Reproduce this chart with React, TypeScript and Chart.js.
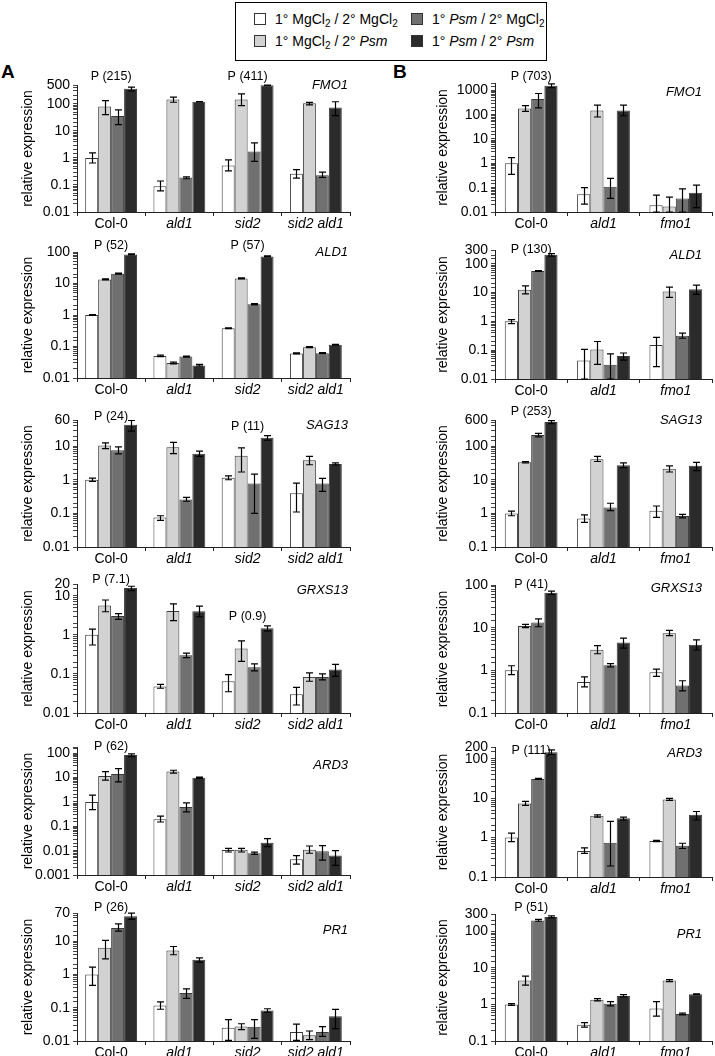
import React, { useEffect, useRef } from 'react';
import { Chart, registerables } from 'chart.js';

Chart.register(...registerables);

const FONT = "'Liberation Sans', Arial, Helvetica, sans-serif";

// ---------- categories & series ----------
const CATEGORIES_A = ['Col-0', 'ald1', 'sid2', 'sid2 ald1'];
const CATEGORIES_B = ['Col-0', 'ald1', 'fmo1'];
const SERIES = ['1° MgCl2 / 2° MgCl2', '1° MgCl2 / 2° Psm', '1° Psm / 2° MgCl2', '1° Psm / 2° Psm'];
const COLORS = ['#ffffff', '#d2d2d2', '#707070', '#2b2b2b'];

// ---------- data: rows = series (white, light, mid, dark), columns = categories ----------
// Panel A
const FMO1_A_VAL = [[1, 0.09, 0.53, 0.26], [80, 145, 145, 105], [36, 0.19, 1.75, 0.23], [360, 120, 490, 74]];
const FMO1_A_LO = [[0.65, 0.06, 0.33, 0.18], [40, 115, 87, 92], [17, 0.17, 0.75, 0.19], [300, 118, 470, 37]];
const FMO1_A_HI = [[1.55, 0.14, 0.85, 0.37], [132, 178, 235, 113], [60, 0.2, 3.6, 0.3], [420, 122, 510, 120]];
const FMO1_A_TICKS = [0.01, 0.1, 1, 10, 100, 500];

const ALD1_A_VAL = [[1, 0.05, 0.38, 0.06], [13.4, 0.03, 14.4, 0.095], [20.5, 0.048, 2.2, 0.061], [84, 0.025, 72, 0.114]];
const ALD1_A_LO = [[0.97, 0.048, 0.37, 0.058], [12.9, 0.028, 13.9, 0.092], [19.8, 0.046, 2.1, 0.059], [81, 0.024, 70, 0.11]];
const ALD1_A_HI = [[1.03, 0.053, 0.39, 0.063], [14, 0.032, 15, 0.099], [21.3, 0.05, 2.3, 0.064], [88, 0.027, 75, 0.118]];
const ALD1_A_TICKS = [0.01, 0.1, 1, 10, 100];

const SAG13_A_VAL = [[1, 0.075, 1.15, 0.4], [10.5, 9.3, 5.2, 3.8], [7.6, 0.26, 0.78, 0.78], [43, 5.9, 17.8, 2.95]];
const SAG13_A_LO = [[0.89, 0.062, 1.0, 0.11], [8.5, 6, 1.7, 2.8], [5.9, 0.23, 0.1, 0.45], [28, 5, 15, 2.75]];
const SAG13_A_HI = [[1.12, 0.085, 1.3, 0.8], [12.6, 13, 8.9, 5], [9.5, 0.3, 1.48, 1.1], [58, 7.1, 20.5, 3.2]];
const SAG13_A_TICKS = [0.01, 0.1, 1, 10, 60];

const GRXS13_A_VAL = [[1, 0.048, 0.065, 0.03], [5.6, 4.1, 0.45, 0.084], [3.05, 0.3, 0.148, 0.084], [15.7, 4, 1.48, 0.13]];
const GRXS13_A_LO = [[0.55, 0.043, 0.035, 0.016], [3.9, 2.3, 0.21, 0.065], [2.5, 0.26, 0.12, 0.07], [13.5, 2.9, 1.27, 0.087]];
const GRXS13_A_HI = [[1.4, 0.054, 0.096, 0.045], [7.8, 6.2, 0.7, 0.106], [3.5, 0.34, 0.18, 0.1], [17.5, 5.4, 1.7, 0.175]];
const GRXS13_A_TICKS = [0.01, 0.1, 1, 10, 20];

const ARD3_A_VAL = [[1, 0.196, 0.0106, 0.0044], [11.7, 17.6, 0.0108, 0.011], [14, 0.62, 0.0078, 0.0095], [85, 9.8, 0.021, 0.0063]];
const ARD3_A_LO = [[0.48, 0.15, 0.0088, 0.0028], [7.8, 15.3, 0.0088, 0.0078], [6.6, 0.39, 0.007, 0.0041], [73, 9.3, 0.0145, 0.0025]];
const ARD3_A_HI = [[1.9, 0.26, 0.0124, 0.0063], [17.6, 20, 0.0125, 0.0155], [23.5, 0.91, 0.0087, 0.016], [94, 10.5, 0.031, 0.01]];
const ARD3_A_TICKS = [0.001, 0.01, 0.1, 1, 10, 100];

const PR1_A_VAL = [[1, 0.117, 0.025, 0.0186], [6.3, 5.25, 0.0275, 0.0148], [25, 0.275, 0.027, 0.0186], [56, 2.75, 0.083, 0.055]];
const PR1_A_LO = [[0.47, 0.09, 0.0105, 0.0105], [2.95, 3.9, 0.022, 0.011], [20, 0.19, 0.012, 0.0138], [45, 2.34, 0.073, 0.0235]];
const PR1_A_HI = [[1.66, 0.15, 0.044, 0.032], [10.5, 6.9, 0.033, 0.02], [33, 0.37, 0.044, 0.027], [69, 3.16, 0.093, 0.089]];
const PR1_A_TICKS = [0.01, 0.1, 1, 10, 70];

// Panel B
const FMO1_B_VAL = [[1, 0.053, 0.019], [178, 150, 0.017], [440, 0.11, 0.036], [1550, 150, 0.062]];
const FMO1_B_LO = [[0.35, 0.021, 0.01], [137, 80, 0.01], [190, 0.036, 0.01], [1300, 90, 0.015]];
const FMO1_B_HI = [[1.7, 0.1, 0.049], [237, 245, 0.041], [740, 0.24, 0.09], [1850, 245, 0.127]];
const FMO1_B_TICKS = [0.01, 0.1, 1, 10, 100, 1000];

const ALD1_B_VAL = [[1, 0.044, 0.15], [12.4, 0.105, 10.8], [56, 0.031, 0.32], [205, 0.063, 13]];
const ALD1_B_LO = [[0.83, 0.01, 0.027], [9, 0.032, 6.8], [54, 0.01, 0.26], [185, 0.045, 8.6]];
const ALD1_B_HI = [[1.15, 0.106, 0.28], [17, 0.2, 15.4], [58, 0.075, 0.39], [225, 0.08, 18.2]];
const ALD1_B_TICKS = [0.01, 0.1, 1, 10, 100, 300];

const SAG13_B_VAL = [[1, 0.7, 1.2], [33, 41, 21.4], [214, 1.5, 0.84], [525, 27, 26]];
const SAG13_B_LO = [[0.85, 0.54, 0.76], [31.5, 35, 17], [190, 1.2, 0.74], [470, 23, 18.6]];
const SAG13_B_HI = [[1.17, 0.9, 1.66], [34.5, 50, 26], [240, 2, 0.93], [575, 31.6, 33]];
const SAG13_B_TICKS = [0.1, 1, 10, 100, 600];

const GRXS13_B_VAL = [[1, 0.53, 0.9], [10.9, 3.04, 7.4], [13.3, 1.31, 0.44], [66, 4.5, 4]];
const GRXS13_B_LO = [[0.79, 0.41, 0.72], [10, 2.45, 6.5], [10.5, 1.2, 0.33], [60, 3.3, 3]];
const GRXS13_B_HI = [[1.28, 0.7, 1.07], [11.9, 3.8, 8.6], [16, 1.43, 0.57], [72, 5.7, 5.2]];
const GRXS13_B_TICKS = [0.1, 1, 10, 100];

const ARD3_B_VAL = [[1, 0.46, 0.82], [7.3, 3.6, 9.3], [31, 0.74, 0.62], [148, 3.1, 3.8]];
const ARD3_B_LO = [[0.79, 0.4, 0.79], [6.6, 3.3, 8.8], [30, 0.19, 0.53], [129, 2.8, 2.8]];
const ARD3_B_HI = [[1.3, 0.55, 0.85], [8.3, 3.8, 9.9], [32, 2.6, 0.72], [170, 3.3, 4.6]];
const ARD3_B_TICKS = [0.1, 1, 10, 100, 200];

const PR1_B_VAL = [[1, 0.28, 0.78], [4.5, 1.35, 4.5], [200, 1.05, 0.55], [250, 1.7, 1.9]];
const PR1_B_LO = [[0.95, 0.24, 0.48], [3.4, 1.25, 4.2], [190, 0.92, 0.52], [235, 1.6, 1.85]];
const PR1_B_HI = [[1.05, 0.32, 1.2], [6, 1.45, 4.8], [215, 1.2, 0.58], [265, 1.85, 1.95]];
const PR1_B_TICKS = [0.1, 1, 10, 100, 300];

// ---------- layout ----------
const PADT = 30;
const XH = 24;
const GEO: any = {
  A: { left: 0, w: 355, yWidth: 77, padRight: 5, titlePad: 20, catPct: 0.76, geneInset: 2, cats: CATEGORIES_A },
  B: { left: 360, w: 355, yWidth: 135, padRight: 3, titlePad: 75, catPct: 0.73, geneInset: 10, cats: CATEGORIES_B },
};

const PANELS: any[] = [
  { side: 'A', gene: 'FMO1', val: FMO1_A_VAL, lo: FMO1_A_LO, hi: FMO1_A_HI, ticks: FMO1_A_TICKS, min: 0.01, max: 500, top: 85, bottom: 212, geneDy: 0, p: [{ cat: 0, text: 'P (215)', dy: -8 }, { cat: 2, text: 'P (411)', dy: -8 }] },
  { side: 'A', gene: 'ALD1', val: ALD1_A_VAL, lo: ALD1_A_LO, hi: ALD1_A_HI, ticks: ALD1_A_TICKS, min: 0.01, max: 100, top: 252, bottom: 378, geneDy: 0, p: [{ cat: 0, text: 'P (52)', dy: -6 }, { cat: 2, text: 'P (57)', dy: -6 }] },
  { side: 'A', gene: 'SAG13', val: SAG13_A_VAL, lo: SAG13_A_LO, hi: SAG13_A_HI, ticks: SAG13_A_TICKS, min: 0.01, max: 60, top: 420, bottom: 547, geneDy: 5, p: [{ cat: 0, text: 'P (24)', dy: -3 }, { cat: 2, text: 'P (11)', dy: 7 }] },
  { side: 'A', gene: 'GRXS13', val: GRXS13_A_VAL, lo: GRXS13_A_LO, hi: GRXS13_A_HI, ticks: GRXS13_A_TICKS, min: 0.01, max: 20, top: 584, bottom: 713, geneDy: 6, p: [{ cat: 0, text: 'P (7.1)', dy: -4 }, { cat: 2, text: 'P (0.9)', dy: 33 }] },
  { side: 'A', gene: 'ARD3', val: ARD3_A_VAL, lo: ARD3_A_LO, hi: ARD3_A_HI, ticks: ARD3_A_TICKS, min: 0.001, max: 180, top: 747, bottom: 875, geneDy: 18, p: [{ cat: 0, text: 'P (62)', dy: 0 }] },
  { side: 'A', gene: 'PR1', val: PR1_A_VAL, lo: PR1_A_LO, hi: PR1_A_HI, ticks: PR1_A_TICKS, min: 0.01, max: 70, top: 913, bottom: 1041, geneDy: 17, p: [{ cat: 0, text: 'P (26)', dy: -5 }] },
  { side: 'B', gene: 'FMO1', val: FMO1_B_VAL, lo: FMO1_B_LO, hi: FMO1_B_HI, ticks: FMO1_B_TICKS, min: 0.01, max: 2000, top: 83, bottom: 212, geneDy: 9, p: [{ cat: 0, text: 'P (703)', dy: -6 }] },
  { side: 'B', gene: 'ALD1', val: ALD1_B_VAL, lo: ALD1_B_LO, hi: ALD1_B_HI, ticks: ALD1_B_TICKS, min: 0.01, max: 300, top: 250, bottom: 379, geneDy: 5, p: [{ cat: 0, text: 'P (130)', dy: 0 }] },
  { side: 'B', gene: 'SAG13', val: SAG13_B_VAL, lo: SAG13_B_LO, hi: SAG13_B_HI, ticks: SAG13_B_TICKS, min: 0.1, max: 600, top: 420, bottom: 547, geneDy: 0, p: [{ cat: 0, text: 'P (253)', dy: -8 }] },
  { side: 'B', gene: 'GRXS13', val: GRXS13_B_VAL, lo: GRXS13_B_LO, hi: GRXS13_B_HI, ticks: GRXS13_B_TICKS, min: 0.1, max: 100, top: 585, bottom: 713, geneDy: 3, p: [{ cat: 0, text: 'P (41)', dy: 0 }] },
  { side: 'B', gene: 'ARD3', val: ARD3_B_VAL, lo: ARD3_B_LO, hi: ARD3_B_HI, ticks: ARD3_B_TICKS, min: 0.1, max: 200, top: 747, bottom: 877, geneDy: 6, p: [{ cat: 0, text: 'P (111)', dy: 4 }] },
  { side: 'B', gene: 'PR1', val: PR1_B_VAL, lo: PR1_B_LO, hi: PR1_B_HI, ticks: PR1_B_TICKS, min: 0.1, max: 300, top: 914, bottom: 1041, geneDy: 20, p: [{ cat: 0, text: 'P (51)', dy: -6 }] },
];

// ---------- plugins ----------
const CAP = 3.5;
const errorBarPlugin = {
  id: 'errorBars',
  afterDatasetsDraw(chart: any) {
    const { ctx } = chart;
    const y = chart.scales.y;
    ctx.save();
    ctx.strokeStyle = '#000';
    ctx.lineWidth = 1.2;
    chart.data.datasets.forEach((ds: any, di: number) => {
      const meta = chart.getDatasetMeta(di);
      meta.data.forEach((bar: any, i: number) => {
        const lo = Math.max(ds.lo[i], y.min);
        const hi = Math.min(ds.hi[i], y.max);
        const x = Math.round(bar.x) + 0.5;
        const yl = y.getPixelForValue(lo);
        const yh = y.getPixelForValue(hi);
        ctx.beginPath();
        ctx.moveTo(x, yl);
        ctx.lineTo(x, yh);
        ctx.moveTo(x - CAP, yh);
        ctx.lineTo(x + CAP, yh);
        ctx.moveTo(x - CAP, yl);
        ctx.lineTo(x + CAP, yl);
        ctx.stroke();
      });
    });
    ctx.restore();
  },
};

const annotPlugin = {
  id: 'annot',
  afterDraw(chart: any, _args: any, opts: any) {
    const { ctx, chartArea } = chart;
    const x = chart.scales.x;
    ctx.save();
    ctx.fillStyle = '#000';
    ctx.textBaseline = 'middle';
    ctx.font = `italic 13px ${FONT}`;
    ctx.textAlign = 'right';
    ctx.fillText(opts.gene, chartArea.right - opts.geneInset, chartArea.top + opts.geneDy);
    ctx.font = `12.5px ${FONT}`;
    ctx.textAlign = 'center';
    (opts.p || []).forEach((p: any) => {
      ctx.fillText(p.text, x.getPixelForValue(p.cat), chartArea.top + p.dy);
    });
    ctx.restore();
  },
};

function Panel({ spec }: { spec: any }) {
  const ref = useRef<HTMLCanvasElement>(null);
  const geo = GEO[spec.side];
  const height = PADT + (spec.bottom - spec.top) + XH;

  useEffect(() => {
    if (!ref.current) return;
    const chart = new Chart(ref.current, {
      type: 'bar',
      data: {
        labels: geo.cats,
        datasets: spec.val.map((v: number[], s: number) => ({
          label: SERIES[s],
          data: v,
          lo: spec.lo[s],
          hi: spec.hi[s],
          backgroundColor: COLORS[s],
          borderColor: '#3a3a3a',
          borderWidth: 1,
          categoryPercentage: geo.catPct,
          barPercentage: 1,
        })) as any,
      },
      options: {
        responsive: false,
        animation: false,
        devicePixelRatio: 1,
        layout: { padding: { top: PADT, left: 0, right: geo.padRight, bottom: 0 } },
        plugins: {
          legend: { display: false },
          tooltip: { enabled: false },
          annot: { gene: spec.gene, geneDy: spec.geneDy, geneInset: geo.geneInset, p: spec.p },
        } as any,
        scales: {
          x: {
            type: 'category',
            offset: true,
            grid: { offset: true, drawOnChartArea: false, drawTicks: true, tickLength: 4, color: '#222' },
            border: { color: '#222', width: 1 },
            ticks: {
              color: '#000',
              padding: 0,
              maxRotation: 0,
              autoSkip: false,
              font: (c: any) => ({ family: FONT, size: 14, style: c.index > 0 ? 'italic' : 'normal' }),
            },
            afterFit: (s: any) => { s.height = XH; },
          },
          y: {
            type: 'logarithmic',
            min: spec.min,
            max: spec.max,
            grid: { drawOnChartArea: false, drawTicks: true, tickLength: 4, color: '#444' },
            border: { color: '#222', width: 1 },
            ticks: {
              autoSkip: false,
              padding: 3,
              color: '#000',
              font: { family: FONT, size: 14 },
              callback: (v: any) => {
                const t = spec.ticks.find((tk: number) => Math.abs(Math.log10(tk) - Math.log10(Number(v))) < 1e-6);
                return t === undefined ? '' : String(t);
              },
            },
            title: {
              display: true,
              text: 'relative expression',
              color: '#000',
              font: { family: FONT, size: 14 },
              padding: { top: geo.titlePad, bottom: 0 },
            },
            afterFit: (s: any) => { s.width = geo.yWidth; },
          },
        } as any,
      },
      plugins: [errorBarPlugin, annotPlugin],
    } as any);
    return () => chart.destroy();
  }, []);

  return (
    <canvas
      ref={ref}
      width={geo.w}
      height={height}
      style={{ position: 'absolute', left: geo.left, top: spec.top - PADT, width: geo.w, height }}
    />
  );
}

const Sub = ({ children }: any) => (
  <sub style={{ fontSize: 10, verticalAlign: -3, lineHeight: 0 }}>{children}</sub>
);

function LegendItem({ color, left, top, children }: any) {
  return (
    <div style={{ position: 'absolute', left, top, height: 18, display: 'flex', alignItems: 'center', whiteSpace: 'nowrap' }}>
      <span style={{ display: 'inline-block', width: 10, height: 10, background: color, border: '1px solid #333', marginRight: 9 }} />
      <span style={{ lineHeight: '18px' }}>{children}</span>
    </div>
  );
}

export default function App() {
  return (
    <div style={{ position: 'absolute', left: 0, top: 0, width: 715, height: 1056, overflow: 'hidden', background: '#fff', fontFamily: FONT, color: '#000' }}>
      <div style={{ position: 'absolute', left: 235, top: 2, width: 312, height: 59, border: '1.5px solid #000', boxSizing: 'border-box', fontSize: 14 }}>
        <LegendItem color={COLORS[0]} left={18} top={7}>1° MgCl<Sub>2</Sub> / 2° MgCl<Sub>2</Sub></LegendItem>
        <LegendItem color={COLORS[2]} left={175} top={7}>1° <i>Psm</i> / 2° MgCl<Sub>2</Sub></LegendItem>
        <LegendItem color={COLORS[1]} left={18} top={29}>1° MgCl<Sub>2</Sub> / 2° <i>Psm</i></LegendItem>
        <LegendItem color={COLORS[3]} left={175} top={29}>1° <i>Psm</i> / 2° <i>Psm</i></LegendItem>
      </div>
      <div style={{ position: 'absolute', left: 1, top: 62, fontSize: 19, fontWeight: 'bold', lineHeight: 1 }}>A</div>
      <div style={{ position: 'absolute', left: 393, top: 62, fontSize: 19, fontWeight: 'bold', lineHeight: 1 }}>B</div>
      {PANELS.map((p, i) => (
        <Panel key={i} spec={p} />
      ))}
    </div>
  );
}
